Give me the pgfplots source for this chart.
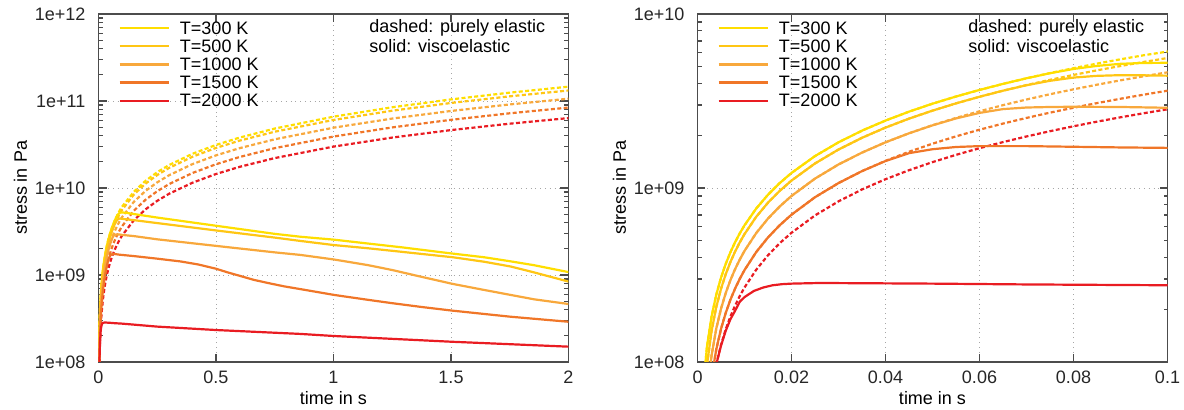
\documentclass[border=0pt]{standalone}
\usepackage{fontspec}
\setmainfont{Liberation Sans}
\usepackage{pgfplots}
\pgfplotsset{compat=1.18}
\usepackage{pgfplotstable}

\definecolor{cA}{RGB}{255,222,0}
\definecolor{cB}{RGB}{255,198,20}
\definecolor{cC}{RGB}{248,168,60}
\definecolor{cD}{RGB}{240,118,40}
\definecolor{cE}{RGB}{233,28,34}

\newcommand\legrow[3]{%
  \draw[#1, line width=1.1pt] (rel axis cs:0.045,#2) -- (rel axis cs:0.149,#2);
  \node[anchor=west, inner sep=0pt, font=\fontsize{9}{10.8}\selectfont] at (rel axis cs:0.1725,#2) {#3};}
\newcommand\notes{%
  \node[anchor=west, inner sep=0pt, font=\fontsize{9}{10.8}\selectfont] at (rel axis cs:0.5755,0.9589) {dashed: purely elastic};
  \node[anchor=west, inner sep=0pt, font=\fontsize{9}{10.8}\selectfont] at (rel axis cs:0.5755,0.9069) {solid: viscoelastic};
  \legrow{cA}{0.9589}{T=300 K}
  \legrow{cB}{0.9069}{T=500 K}
  \legrow{cC}{0.8549}{T=1000 K}
  \legrow{cD}{0.8029}{T=1500 K}
  \legrow{cE}{0.7509}{T=2000 K}}

% purely elastic (dashed)
\pgfplotstableread{
t s
0 1e6
0.001 6.1e7
0.002 1.22e8
0.003 1.83e8
0.004 2.44e8
0.005 3.05e8
0.006 3.66e8
0.007 4.27e8
0.008 4.88e8
0.009 5.49e8
0.01 6.1e8
0.0125 7.625e8
0.015 9.15e8
0.0175 1.0675e9
0.02 1.22e9
0.025 1.525e9
0.03 1.83e9
0.035 2.135e9
0.04 2.44e9
0.045 2.745e9
0.05 3.05e9
0.055 3.355e9
0.06 3.66e9
0.065 3.965e9
0.07 4.27e9
0.075 4.575e9
0.08 4.88e9
0.085 5.185e9
0.09 5.49e9
0.095 5.795e9
0.1 6.08e9
0.15 9.01e9
0.2 1.208e10
0.25 1.519e10
0.3 1.833e10
0.4 2.472e10
0.5 3.125e10
0.6 3.792e10
0.75 4.819e10
1.0 6.6e10
1.25 8.469e10
1.5 1.0425e11
1.75 1.247e11
2.0 1.46e11
}\EA
\pgfplotstableread{
t s
0 1e6
0.001 3.92e7
0.002 9.52e7
0.003 1.512e8
0.004 2.072e8
0.005 2.632e8
0.006 3.192e8
0.007 3.752e8
0.008 4.312e8
0.009 4.872e8
0.01 5.432e8
0.0125 6.832e8
0.015 8.232e8
0.0175 9.632e8
0.02 1.1032e9
0.025 1.3832e9
0.03 1.6632e9
0.035 1.9432e9
0.04 2.2232e9
0.045 2.5032e9
0.05 2.7832e9
0.055 3.0632e9
0.06 3.3432e9
0.065 3.6232e9
0.07 3.9032e9
0.075 4.1832e9
0.08 4.4632e9
0.085 4.7432e9
0.09 5.0232e9
0.095 5.3032e9
0.1 5.5832e9
0.15 8.374e9
0.2 1.122e10
0.25 1.409e10
0.3 1.70e10
0.4 2.288e10
0.5 2.888e10
0.6 3.498e10
0.75 4.434e10
1.0 6.05e10
1.25 7.734e10
1.5 9.488e10
1.75 1.131e11
2.0 1.32e11
}\EB
\pgfplotstableread{
t s
0 1e6
0.001 1.63e7
0.002 6.28e7
0.003 1.093e8
0.004 1.558e8
0.005 2.023e8
0.006 2.488e8
0.007 2.953e8
0.008 3.418e8
0.009 3.883e8
0.01 4.348e8
0.0125 5.51e8
0.015 6.673e8
0.0175 7.835e8
0.02 8.998e8
0.025 1.132e9
0.03 1.365e9
0.035 1.597e9
0.04 1.83e9
0.045 2.062e9
0.05 2.295e9
0.055 2.527e9
0.06 2.76e9
0.065 2.992e9
0.07 3.225e9
0.075 3.457e9
0.08 3.69e9
0.085 3.922e9
0.09 4.155e9
0.095 4.387e9
0.1 4.62e9
0.15 6.911e9
0.2 9.252e9
0.25 1.161e10
0.3 1.399e10
0.4 1.881e10
0.5 2.37e10
0.6 2.867e10
0.75 3.626e10
1.0 4.93e10
1.25 6.281e10
1.5 7.68e10
1.75 9.126e10
2.0 1.062e11
}\EC
\pgfplotstableread{
t s
0 1e6
0.001 8.76e6
0.002 4.53e7
0.003 8.18e7
0.004 1.183e8
0.005 1.548e8
0.006 1.913e8
0.007 2.278e8
0.008 2.643e8
0.009 3.008e8
0.01 3.373e8
0.0125 4.285e8
0.015 5.198e8
0.0175 6.11e8
0.02 7.023e8
0.025 8.848e8
0.03 1.067e9
0.035 1.25e9
0.04 1.432e9
0.045 1.615e9
0.05 1.797e9
0.055 1.98e9
0.06 2.162e9
0.065 2.345e9
0.07 2.527e9
0.075 2.71e9
0.08 2.892e9
0.085 3.075e9
0.09 3.257e9
0.095 3.44e9
0.1 3.622e9
0.15 5.468e9
0.2 7.32e9
0.25 9.188e9
0.3 1.107e10
0.4 1.488e10
0.5 1.875e10
0.6 2.268e10
0.75 2.869e10
1.0 3.9e10
1.25 4.969e10
1.5 6.075e10
1.75 7.219e10
2.0 8.4e10
}\ED
\pgfplotstableread{
t s
0 1e6
0.001 1.14e7
0.002 3.99e7
0.003 6.84e7
0.004 9.69e7
0.005 1.254e8
0.006 1.539e8
0.007 1.824e8
0.008 2.109e8
0.009 2.394e8
0.01 2.679e8
0.0125 3.392e8
0.015 4.104e8
0.0175 4.817e8
0.02 5.529e8
0.025 6.954e8
0.03 8.379e8
0.035 9.804e8
0.04 1.123e9
0.045 1.265e9
0.05 1.408e9
0.055 1.55e9
0.06 1.693e9
0.065 1.835e9
0.07 1.978e9
0.075 2.12e9
0.08 2.263e9
0.085 2.405e9
0.09 2.548e9
0.095 2.69e9
0.1 2.833e9
0.15 4.243e9
0.2 5.676e9
0.25 7.119e9
0.3 8.571e9
0.4 1.15e10
0.5 1.448e10
0.6 1.748e10
0.75 2.207e10
1.0 2.99e10
1.25 3.797e10
1.5 4.628e10
1.75 5.482e10
2.0 6.36e10
}\EE

% viscoelastic (solid)
\pgfplotstableread{
t s
0 1e6
0.001 6.1e7
0.002 1.22e8
0.003 1.83e8
0.004 2.44e8
0.005 3.05e8
0.006 3.66e8
0.007 4.27e8
0.008 4.88e8
0.009 5.49e8
0.01 6.1e8
0.0125 7.625e8
0.015 9.15e8
0.0175 1.0675e9
0.02 1.22e9
0.025 1.525e9
0.03 1.83e9
0.035 2.135e9
0.04 2.44e9
0.045 2.745e9
0.05 3.05e9
0.055 3.355e9
0.06 3.66e9
0.065 3.965e9
0.07 4.27e9
0.075 4.565e9
0.08 4.83e9
0.085 5.03e9
0.09 5.17e9
0.095 5.23e9
0.1 5.24e9
0.12 5.17e9
0.15 5.02e9
0.25 4.57e9
0.5 3.68e9
0.75 2.97e9
0.86 2.75e9
1.0 2.55e9
1.14 2.31e9
1.29 2.08e9
1.5 1.77e9
1.64 1.60e9
1.75 1.44e9
1.85 1.30e9
2.0 1.08e9
}\VA
\pgfplotstableread{
t s
0 1e6
0.001 3.92e7
0.002 9.52e7
0.003 1.512e8
0.004 2.072e8
0.005 2.632e8
0.006 3.192e8
0.007 3.752e8
0.008 4.312e8
0.009 4.872e8
0.01 5.432e8
0.0125 6.832e8
0.015 8.232e8
0.0175 9.632e8
0.02 1.1032e9
0.025 1.3832e9
0.03 1.6632e9
0.035 1.9432e9
0.04 2.2232e9
0.045 2.5032e9
0.05 2.7832e9
0.055 3.0632e9
0.06 3.3432e9
0.065 3.6232e9
0.07 3.895e9
0.075 4.13e9
0.08 4.31e9
0.085 4.41e9
0.09 4.45e9
0.095 4.44e9
0.1 4.42e9
0.15 4.27e9
0.25 3.95e9
0.5 3.25e9
0.75 2.69e9
0.86 2.46e9
1.0 2.21e9
1.145 2.03e9
1.287 1.85e9
1.507 1.60e9
1.641 1.42e9
1.755 1.25e9
1.854 1.07e9
2.0 8.4e8
}\VB
\pgfplotstableread{
t s
0 1e6
0.001 1.63e7
0.002 6.28e7
0.003 1.093e8
0.004 1.558e8
0.005 2.023e8
0.006 2.488e8
0.007 2.953e8
0.008 3.418e8
0.009 3.883e8
0.01 4.348e8
0.0125 5.51e8
0.015 6.673e8
0.0175 7.835e8
0.02 8.998e8
0.025 1.132e9
0.03 1.365e9
0.035 1.597e9
0.04 1.83e9
0.045 2.062e9
0.05 2.29e9
0.055 2.51e9
0.06 2.70e9
0.065 2.84e9
0.07 2.90e9
0.075 2.92e9
0.08 2.93e9
0.09 2.92e9
0.1 2.89e9
0.15 2.8e9
0.25 2.57e9
0.5 2.16e9
0.75 1.82e9
0.86 1.70e9
1.0 1.51e9
1.145 1.30e9
1.25 1.14e9
1.358 9.75e8
1.507 7.9e8
1.641 6.73e8
1.755 5.89e8
1.854 5.25e8
2.0 4.64e8
}\VC
\pgfplotstableread{
t s
0 1e6
0.001 8.76e6
0.002 4.53e7
0.003 8.18e7
0.004 1.183e8
0.005 1.548e8
0.006 1.913e8
0.007 2.278e8
0.008 2.643e8
0.009 3.008e8
0.01 3.373e8
0.0125 4.285e8
0.015 5.198e8
0.0175 6.11e8
0.02 7.023e8
0.025 8.848e8
0.03 1.067e9
0.035 1.25e9
0.04 1.428e9
0.045 1.585e9
0.05 1.67e9
0.055 1.72e9
0.06 1.74e9
0.07 1.74e9
0.08 1.725e9
0.09 1.71e9
0.1 1.70e9
0.15 1.65e9
0.25 1.54e9
0.35 1.43e9
0.425 1.32e9
0.5 1.18e9
0.55 1.07e9
0.6 9.8e8
0.66 8.8e8
0.72 8.1e8
0.79 7.4e8
0.862 6.86e8
1.004 5.89e8
1.145 5.19e8
1.25 4.74e8
1.38 4.27e8
1.507 3.89e8
1.755 3.31e8
2.0 2.9e8
}\VD
\pgfplotstableread{
t s
0 1e6
0.001 1.14e7
0.002 3.99e7
0.003 6.84e7
0.004 9.69e7
0.005 1.24e8
0.006 1.51e8
0.007 1.76e8
0.008 1.97e8
0.009 2.22e8
0.01 2.36e8
0.012 2.56e8
0.014 2.68e8
0.016 2.76e8
0.018 2.8e8
0.02 2.82e8
0.025 2.84e8
0.03 2.84e8
0.05 2.82e8
0.07 2.79e8
0.1 2.76e8
0.25 2.55e8
0.5 2.33e8
0.862 2.1e8
1.0 1.99e8
1.5 1.71e8
2.0 1.5e8
}\VE

\pgfplotsset{
  myaxis/.style={
    scale only axis, width=235pt, height=174pt,
    axis line style={draw=black!70, line width=0.7pt},
    major tick style={draw=black!70, line width=0.6pt},
    minor tick style={draw=black!70, line width=0.6pt},
    major tick length=4pt, minor tick length=2pt,
    tick align=inside,
    grid=major, major grid style={dotted, draw=black!35, line width=0.45pt},
    tick label style={font=\fontsize{9}{10.8}\selectfont, text=black!85},
    label style={font=\fontsize{9}{10.8}\selectfont},
    /pgf/number format/assume math mode=true,
    xlabel={time in s}, ylabel={stress in Pa},
    xlabel style={at={(rel axis cs:0.5,-0.1034)}, anchor=center},
    ylabel style={at={(rel axis cs:-0.166,0.5)}, anchor=center},
    yticklabel style={xshift=-3pt},
    xticklabel style={yshift=-1pt},
  },
  el/.style={line width=1.1pt, dash pattern=on 2pt off 1.2pt},
  ve/.style={line width=1.1pt},
}

\begin{document}
\begin{tikzpicture}
\useasboundingbox (0,0) rectangle (592pt,205pt);
\begin{semilogyaxis}[myaxis, at={(49.25pt,24pt)}, anchor=south west,
  xmin=0, xmax=2, ymin=1e8, ymax=1e12,
  xtick={0,0.5,1,1.5,2}, xticklabels={0,0.5,1,1.5,2},
  ytick={1e8,1e9,1e10,1e11,1e12},
  yticklabels={1e+08,1e+09,1e+10,1e+11,1e+12},
  minor ytick={2e8,3e8,4e8,5e8,6e8,7e8,8e8,9e8,2e9,3e9,4e9,5e9,6e9,7e9,8e9,9e9,2e10,3e10,4e10,5e10,6e10,7e10,8e10,9e10,2e11,3e11,4e11,5e11,6e11,7e11,8e11,9e11},
]
\addplot[el, cA] table {\EA};
\addplot[el, cB] table {\EB};
\addplot[el, cC] table {\EC};
\addplot[el, cD] table {\ED};
\addplot[el, cE] table {\EE};
\addplot[ve, cA] table {\VA};
\addplot[ve, cB] table {\VB};
\addplot[ve, cC] table {\VC};
\addplot[ve, cD] table {\VD};
\addplot[ve, cE] table {\VE};
\notes
\end{semilogyaxis}
\begin{semilogyaxis}[myaxis, at={(348.75pt,24pt)}, anchor=south west,
  xmin=0, xmax=0.1, ymin=1e8, ymax=1e10,
  xtick={0,0.02,0.04,0.06,0.08,0.1}, xticklabels={0,0.02,0.04,0.06,0.08,0.1},
  ytick={1e8,1e9,1e10},
  yticklabels={1e+08,1e+09,1e+10},
  minor ytick={2e8,3e8,4e8,5e8,6e8,7e8,8e8,9e8,2e9,3e9,4e9,5e9,6e9,7e9,8e9,9e9},
]
\addplot[el, cA] table {\EA};
\addplot[el, cB] table {\EB};
\addplot[el, cC] table {\EC};
\addplot[el, cD] table {\ED};
\addplot[el, cE] table {\EE};
\addplot[ve, cA] table {\VA};
\addplot[ve, cB] table {\VB};
\addplot[ve, cC] table {\VC};
\addplot[ve, cD] table {\VD};
\addplot[ve, cE] table {\VE};
\notes
\end{semilogyaxis}
\end{tikzpicture}
\end{document}
